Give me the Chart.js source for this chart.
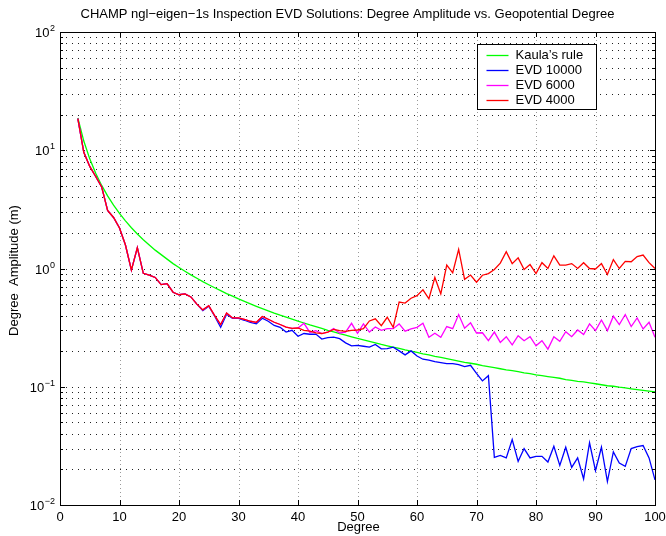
<!DOCTYPE html>
<html lang="en">
<head>
<meta charset="UTF-8">
<title>CHAMP EVD Degree Amplitude</title>
<script src="https://cdn.jsdelivr.net/npm/chart.js"></script>
<style>
    body {
        margin: 0;
        background: #fff;
    }
</style>
</head>
<body>
<canvas id="chart" width="666" height="536"></canvas>

<script>
const degrees = [
    3, 4, 5, 6, 7, 8, 9, 10, 11, 12,
    13, 14, 15, 16, 17, 18, 19, 20, 21, 22,
    23, 24, 25, 26, 27, 28, 29, 30, 31, 32,
    33, 34, 35, 36, 37, 38, 39, 40, 41, 42,
    43, 44, 45, 46, 47, 48, 49, 50, 51, 52,
    53, 54, 55, 56, 57, 58, 59, 60, 61, 62,
    63, 64, 65, 66, 67, 68, 69, 70, 71, 72,
    73, 74, 75, 76, 77, 78, 79, 80, 81, 82,
    83, 84, 85, 86, 87, 88, 89, 90, 91, 92,
    93, 94, 95, 96, 97, 98, 99, 100
];

const kaula = [
    18.75, 11.96, 8.46, 6.39, 5.04, 4.11, 3.43, 2.92, 2.53, 2.21,
    1.96, 1.75, 1.58, 1.43, 1.31, 1.20, 1.10, 1.02, 0.948, 0.884,
    0.827, 0.775, 0.729, 0.687, 0.649, 0.614, 0.583, 0.553, 0.527, 0.502,
    0.479, 0.458, 0.439, 0.420, 0.403, 0.388, 0.373, 0.359, 0.346, 0.333,
    0.322, 0.311, 0.300, 0.291, 0.281, 0.273, 0.264, 0.256, 0.249, 0.242,
    0.235, 0.228, 0.222, 0.216, 0.211, 0.205, 0.200, 0.195, 0.190, 0.186,
    0.181, 0.177, 0.173, 0.169, 0.165, 0.161, 0.158, 0.155, 0.151, 0.148,
    0.145, 0.142, 0.139, 0.137, 0.134, 0.131, 0.129, 0.126, 0.124, 0.122,
    0.120, 0.118, 0.115, 0.113, 0.111, 0.110, 0.108, 0.106, 0.104, 0.102,
    0.101, 0.0992, 0.0977, 0.0961, 0.0947, 0.0932, 0.0918, 0.0904
];

const evd10000 = [
    18.5, 9.6, 7.3, 6.0, 4.9, 3.1, 2.7, 2.2, 1.58, 0.97,
    1.5, 0.91, 0.88, 0.84, 0.73, 0.745, 0.63, 0.60, 0.61, 0.575,
    0.50, 0.44, 0.48, 0.395, 0.318, 0.41, 0.378, 0.378, 0.365, 0.35,
    0.34, 0.38, 0.358, 0.33, 0.318, 0.29, 0.30, 0.267, 0.282, 0.278,
    0.279, 0.253, 0.26, 0.263, 0.255, 0.235, 0.222, 0.224, 0.22, 0.216,
    0.228, 0.209, 0.21, 0.216, 0.201, 0.186, 0.201, 0.182, 0.171, 0.168,
    0.163, 0.16, 0.157, 0.157, 0.154, 0.148, 0.152, 0.13, 0.112, 0.124,
    0.0253, 0.0263, 0.025, 0.0358, 0.0234, 0.030, 0.025, 0.0258, 0.0258, 0.0231,
    0.0314, 0.0216, 0.0308, 0.0208, 0.025, 0.0166, 0.0336, 0.0195, 0.0308, 0.0158,
    0.0281, 0.0226, 0.0212, 0.030, 0.0312, 0.0318, 0.025, 0.0163
];

const evd6000 = [
    18.5, 9.6, 7.3, 6.0, 4.9, 3.1, 2.7, 2.2, 1.58, 0.97,
    1.5, 0.91, 0.88, 0.84, 0.73, 0.745, 0.63, 0.60, 0.61, 0.575,
    0.50, 0.447, 0.484, 0.40, 0.336, 0.42, 0.382, 0.382, 0.372, 0.358,
    0.351, 0.393, 0.372, 0.351, 0.336, 0.32, 0.312, 0.314, 0.344, 0.288,
    0.298, 0.282, 0.29, 0.31, 0.285, 0.29, 0.344, 0.283, 0.34, 0.29,
    0.32, 0.30, 0.31, 0.31, 0.34, 0.295, 0.308, 0.318, 0.344, 0.262,
    0.283, 0.262, 0.323, 0.31, 0.408, 0.313, 0.347, 0.285, 0.286, 0.245,
    0.29, 0.237, 0.265, 0.226, 0.27, 0.245, 0.265, 0.222, 0.245, 0.208,
    0.265, 0.242, 0.292, 0.265, 0.302, 0.276, 0.34, 0.298, 0.367, 0.298,
    0.395, 0.336, 0.408, 0.323, 0.382, 0.308, 0.351, 0.262
];

const evd4000 = [
    18.5, 9.6, 7.3, 6.0, 4.9, 3.1, 2.7, 2.2, 1.58, 0.97,
    1.5, 0.91, 0.88, 0.84, 0.73, 0.745, 0.63, 0.60, 0.61, 0.575,
    0.50, 0.447, 0.484, 0.40, 0.336, 0.42, 0.382, 0.382, 0.372, 0.358,
    0.351, 0.393, 0.372, 0.351, 0.336, 0.32, 0.312, 0.314, 0.30, 0.295,
    0.285, 0.282, 0.29, 0.305, 0.298, 0.294, 0.30, 0.302, 0.31, 0.36,
    0.375, 0.329, 0.387, 0.318, 0.52, 0.51, 0.56, 0.59, 0.66, 0.555,
    0.84, 0.61, 1.07, 0.92, 1.45, 0.81, 0.88, 0.765, 0.877, 0.906,
    0.98, 1.11, 1.39, 1.10, 1.23, 0.98, 1.08, 0.906, 1.12, 1.0,
    1.28, 1.07, 1.07, 1.10, 1.0, 1.12, 1.0, 0.99, 1.10, 0.89,
    1.19, 1.0, 1.15, 1.14, 1.26, 1.30, 1.12, 1.0
];

const xTicks = [0, 10, 20, 30, 40, 50, 60, 70, 80, 90, 100];
const yTicks = [0.01, 0.1, 1, 10, 100];
const yExponents = ['\u22122', '\u22121', '0', '1', '2'];

const FONT = '"Liberation Sans", Arial, Helvetica, sans-serif';

// 1..9 x 10^n positions for the dotted log grid
const yMinor = [];
yTicks.slice(0, -1).forEach(p => {
    for (let k = 1; k < 10; k++) yMinor.push(p * k);
});
yMinor.push(yTicks[yTicks.length - 1]);

function pts(values) {
    return degrees.map((d, i) => ({x: d, y: values[i]}));
}

function hline(ctx, x1, x2, y) {
    ctx.beginPath();
    ctx.moveTo(x1, y);
    ctx.lineTo(x2, y);
    ctx.stroke();
}

function vline(ctx, x, y1, y2) {
    ctx.beginPath();
    ctx.moveTo(x, y1);
    ctx.lineTo(x, y2);
    ctx.stroke();
}

// matlab style axes: dotted grid, boxed axes, inward ticks, 10^n labels, titles, legend
const matlabAxes = {
    id: 'matlabAxes',
    beforeDatasetsDraw(chart) {
        const {ctx, chartArea: a, scales: {x, y}} = chart;
        ctx.save();
        ctx.lineWidth = 1;
        ctx.strokeStyle = '#9a9a9a';
        ctx.setLineDash([1, 3]);
        xTicks.slice(1, -1).forEach(v => {
            vline(ctx, Math.round(x.getPixelForValue(v)) + 0.5, a.top, a.bottom);
        });
        ctx.strokeStyle = '#222';
        ctx.setLineDash([1, 5]);
        yMinor.slice(1, -1).forEach(v => {
            hline(ctx, a.left, a.right, Math.round(y.getPixelForValue(v)) + 0.5);
        });
        ctx.restore();
    },
    afterDraw(chart) {
        const {ctx, chartArea: a, scales: {x, y}} = chart;
        ctx.save();
        ctx.lineWidth = 1;
        ctx.strokeStyle = '#000';
        ctx.strokeRect(Math.round(a.left) + 0.5, Math.round(a.top) + 0.5,
            Math.round(a.right - a.left), Math.round(a.bottom - a.top));

        xTicks.forEach(v => {
            const px = Math.round(x.getPixelForValue(v)) + 0.5;
            vline(ctx, px, a.bottom, a.bottom - 5);
            vline(ctx, px, a.top, a.top + 5);
        });
        yMinor.forEach(v => {
            const py = Math.round(y.getPixelForValue(v)) + 0.5;
            const len = yTicks.includes(v) ? 5 : 3;
            hline(ctx, a.left, a.left + len, py);
            hline(ctx, a.right, a.right - len, py);
        });

        // y tick labels: 10 with raised exponent
        ctx.fillStyle = '#000';
        ctx.textAlign = 'right';
        ctx.textBaseline = 'alphabetic';
        yTicks.forEach((v, i) => {
            const py = y.getPixelForValue(v);
            const right = a.left - 5;
            ctx.font = '9px ' + FONT;
            const ew = ctx.measureText(yExponents[i]).width;
            ctx.fillText(yExponents[i], right, py - 1);
            ctx.font = '13px ' + FONT;
            ctx.fillText('10', right - ew - 0.5, py + 5);
        });

        // titles
        ctx.font = '13px ' + FONT;
        ctx.textAlign = 'center';
        ctx.textBaseline = 'middle';
        ctx.fillText('CHAMP ngl\u2212eigen\u22121s Inspection EVD Solutions: Degree Amplitude vs. Geopotential Degree',
            (a.left + a.right) / 2 - 10, 14);
        ctx.fillText('Degree', (a.left + a.right) / 2 + 1, 527);
        ctx.save();
        ctx.translate(14, (a.top + a.bottom) / 2 + 2);
        ctx.rotate(-Math.PI / 2);
        ctx.fillText('Degree  Amplitude (m)', 0, 0);
        ctx.restore();

        // legend box
        const lx = Math.round(a.right) - 177.5, ly = Math.round(a.top) + 12.5;
        const lw = 119, lh = 65;
        ctx.fillStyle = '#fff';
        ctx.fillRect(lx, ly, lw, lh);
        ctx.strokeStyle = '#000';
        ctx.strokeRect(lx, ly, lw, lh);
        ctx.textAlign = 'left';
        ctx.lineWidth = 1.3;
        chart.data.datasets.forEach((ds, i) => {
            const ry = ly + 10 + i * 15;
            ctx.strokeStyle = ds.borderColor;
            hline(ctx, lx + 9, lx + 31, Math.round(ry) + 0.5);
            ctx.fillStyle = '#000';
            ctx.fillText(ds.label, lx + 38, ry + 0.5);
        });
        ctx.restore();
    }
};

const ctx = document.getElementById('chart').getContext('2d');
const chart = new Chart(ctx, {
    type: 'line',
    data: {
        datasets: [
            {label: 'Kaula\u2019s rule', data: pts(kaula), borderColor: '#00ff00', order: 3},
            {label: 'EVD 10000', data: pts(evd10000), borderColor: '#0000ff', order: 2},
            {label: 'EVD 6000', data: pts(evd6000), borderColor: '#ff00ff', order: 1},
            {label: 'EVD 4000', data: pts(evd4000), borderColor: '#ff0000', order: 0}
        ]
    },
    options: {
        responsive: false,
        animation: false,
        datasets: {
            line: {borderWidth: 1.3, pointRadius: 0, tension: 0, fill: false}
        },
        layout: {
            padding: {top: 32, right: 11, bottom: 0, left: 0}
        },
        plugins: {
            legend: {display: false},
            tooltip: {enabled: false},
            title: {display: false}
        },
        scales: {
            x: {
                type: 'linear',
                min: 0,
                max: 100,
                grid: {display: false, drawTicks: false},
                border: {display: false},
                ticks: {
                    stepSize: 10,
                    autoSkip: false,
                    maxRotation: 0,
                    padding: 5,
                    color: '#000',
                    font: {family: FONT, size: 13}
                },
                afterFit: s => {
                    s.height = 31;
                    s.paddingLeft = 0;
                    s.paddingRight = 0;
                }
            },
            y: {
                type: 'logarithmic',
                min: 0.01,
                max: 100,
                grid: {display: false, drawTicks: false},
                border: {display: false},
                ticks: {display: false},
                afterFit: s => {
                    s.width = 60;
                    s.paddingTop = 0;
                    s.paddingBottom = 0;
                }
            }
        }
    },
    plugins: [matlabAxes]
});
</script>
</body>
</html>
